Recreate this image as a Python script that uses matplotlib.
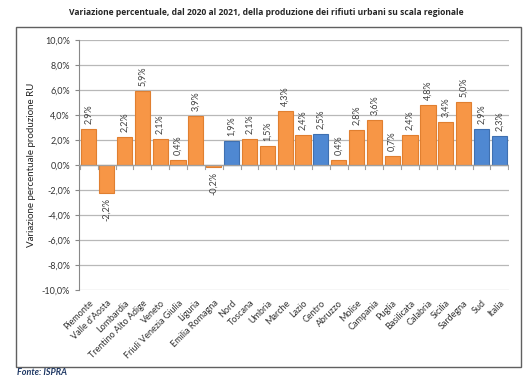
import matplotlib.pyplot as plt
from matplotlib.patches import Rectangle
from matplotlib.ticker import FuncFormatter

plt.rcParams['font.family'] = ['Lato', 'DejaVu Sans']

regioni = ['Piemonte', "Valle d'Aosta", 'Lombardia', 'Trentino Alto Adige', 'Veneto',
           'Friuli Venezia Giulia', 'Liguria', 'Emilia Romagna', 'Nord', 'Toscana',
           'Umbria', 'Marche', 'Lazio', 'Centro', 'Abruzzo', 'Molise', 'Campania',
           'Puglia', 'Basilicata', 'Calabria', 'Sicilia', 'Sardegna', 'Sud', 'Italia']
variazione = [2.9, -2.2, 2.2, 5.9, 2.1, 0.4, 3.9, -0.2, 1.9, 2.1, 1.5, 4.3, 2.4, 2.5,
              0.4, 2.8, 3.6, 0.7, 2.4, 4.8, 3.4, 5.0, 2.9, 2.3]
macroaree = ['Nord', 'Centro', 'Sud', 'Italia']

orange = '#F79646'
blue = '#4F88D2'
colori = [blue if r in macroaree else orange for r in regioni]
bordi = ['#3F70B0' if r in macroaree else '#E07F30' for r in regioni]

fig = plt.figure(figsize=(5.32, 3.8), dpi=100)
ax = fig.add_axes([0.1485, 0.2368, 0.8085, 0.658])

x = range(len(regioni))
ax.bar(x, variazione, width=0.85, color=colori, edgecolor=bordi, linewidth=0.8, zorder=3)

for i, v in enumerate(variazione):
    txt = f'{v:.1f}%'.replace('.', ',')
    if v >= 0:
        ax.text(i, v + 0.4, txt, rotation=90, ha='center', va='bottom', fontsize=6.5, color='#404040')
    else:
        ax.text(i, v - 0.4, txt, rotation=90, ha='center', va='top', fontsize=6.5, color='#404040')

ax.set_ylim(-10, 10)
ax.set_xlim(-0.55, len(regioni) - 0.45)
ax.set_yticks(range(-10, 11, 2))
ax.yaxis.set_major_formatter(FuncFormatter(lambda v, p: f'{v:.1f}%'.replace('.', ',')))
ax.tick_params(axis='y', labelsize=6.5, length=3, color='#888888', labelcolor='#333333')
ax.grid(axis='y', color='#B8B8B8', linewidth=0.9, zorder=0)

ax.set_xticks(list(x))
ax.set_xticklabels(regioni, rotation=45, ha='right', rotation_mode='anchor', fontsize=6.5, color='#333333')
ax.tick_params(axis='x', length=0, pad=6)

for s in ['top', 'right', 'bottom']:
    ax.spines[s].set_visible(False)
ax.spines['left'].set_color('#888888')

# asse dello zero con tacche tra le categorie
ax.axhline(0, color='#A0A0A0', linewidth=0.9, zorder=4)
for b in range(len(regioni) + 1):
    ax.plot([b - 0.5, b - 0.5], [0, -0.35], color='#A0A0A0', linewidth=0.8, zorder=4)

ax.set_ylabel('Variazione percentuale produzione RU', fontsize=7, color='#222222', labelpad=4)

fig.text(0.5, 0.967, 'Variazione percentuale, dal 2020 al 2021, della produzione dei rifiuti urbani su scala regionale',
         ha='center', va='center', fontsize=6.1, fontweight='bold', family=['Open Sans', 'DejaVu Sans'],
         color='#262626')
fig.text(0.032, 0.02, 'Fonte: ISPRA', ha='left', va='center', fontsize=6.5, style='italic',
         fontweight='bold', color='#1F3864')

fig.patches.append(Rectangle((16 / 532, 1 - 367 / 380), (521 - 16) / 532, (367 - 27) / 380,
                             transform=fig.transFigure, fill=False, edgecolor='#606060', linewidth=1))

fig.savefig('out.png', dpi=100)
